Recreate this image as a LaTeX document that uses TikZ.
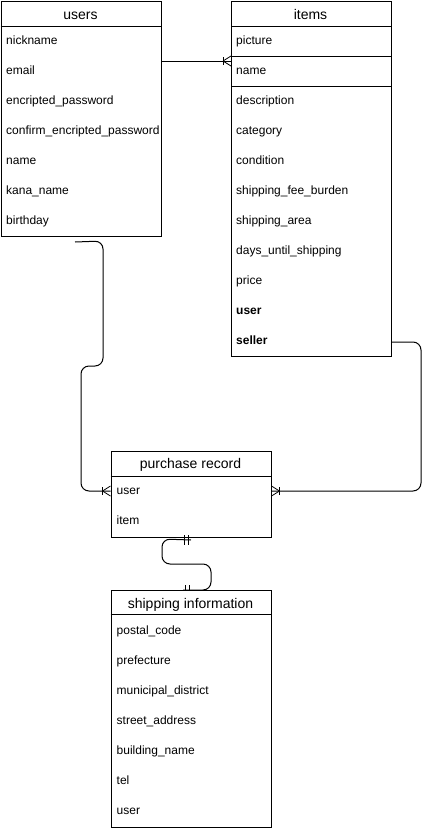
\documentclass[tikz,border=0pt]{standalone}
\usepackage{fontspec}
\setmainfont{Liberation Sans}
\usetikzlibrary{positioning}
\usetikzlibrary{calc}

\tikzset{
  tbl/.style={draw, fill=white, line width=1pt, anchor=north west, inner sep=0pt, minimum width=160pt},
  hdr/.style={font=\fontsize{14}{16}\selectfont, anchor=base, inner sep=0pt},
  fld/.style={font=\fontsize{12}{14}\selectfont, anchor=base west, inner sep=0pt},
  rel/.style={line width=1pt, rounded corners=8pt},
  many/.pic={\draw[line width=0.8pt] (-8,-4) -- (-8,4);
             \draw[line width=0.8pt] (-8,0) -- (0,-5) (-8,0) -- (0,5);},
  onlyone/.pic={\draw[line width=0.8pt] (-7,-5) -- (-7,5) (-3,-5) -- (-3,5);}
}

\begin{document}
\begin{tikzpicture}[x=1pt,y=-1pt]
 \useasboundingbox (0,0) rectangle (429,830);

 % tables
 \node[tbl, minimum height=235.5pt] (users) at (0.5,0.5) {};
 \node[tbl, minimum height=355pt, minimum width=159.5pt] (items) at (231,0.5) {};
 \node[tbl, minimum height=86pt] (purchase) at (110.5,450.5) {};
 \node[tbl, minimum height=236.5pt] (shipping) at (110.5,590) {};

 \draw[line width=1pt] (users.west |- 0,26) -- (users.east |- 0,26);
 \draw[line width=1pt] (items.west |- 0,26) -- (items.east |- 0,26);
 \draw[line width=1pt] (items.west |- 0,56) -- (items.east |- 0,56);
 \draw[line width=1pt] (items.west |- 0,86) -- (items.east |- 0,86);
 \draw[line width=1pt] (purchase.west |- 0,476) -- (purchase.east |- 0,476);
 \draw[line width=1pt] (shipping.west |- 0,614) -- (shipping.east |- 0,614);

 \node[hdr] (users-title) at (80.5,19) {users};
 \node[hdr] (items-title) at (310.5,19) {items};
 \node[hdr] (purchase-title) at (190.5,468.5) {purchase record};
 \node[hdr] (shipping-title) at (190.5,608.5) {shipping information};

 % fields
 \begin{scope}
  \clip (users.north west) rectangle (users.south east);
  \foreach \f [count=\i] in {nickname,email,encripted\_password,confirm\_encripted\_password,name,kana\_name,birthday}
   \node[fld] (users-\i) at (6,14+30*\i) {\f};
 \end{scope}
 \foreach \f [count=\i] in {picture,name,description,category,condition,shipping\_fee\_burden,shipping\_area,days\_until\_shipping,price,\textbf{user},\textbf{seller}}
  \node[fld] (items-\i) at (236,14+30*\i) {\f};
 \foreach \f [count=\i] in {user,item}
  \node[fld] (purchase-\i) at (116.5,464+30*\i) {\f};
 \foreach \f [count=\i] in {postal\_code,prefecture,municipal\_district,street\_address,building\_name,tel,user}
  \node[fld] (shipping-\i) at (116.5,604+30*\i) {\f};

 % relations
 \draw[rel] (users.east |- 0,61) -- (items.west |- 0,61);
 \pic at (items.west |- 0,61) {many};

 \draw[rel] ($(users.south)+(-6,5)$) -- (103,241) -- (103,366) -- (81,366) -- (81,491) -- (purchase.west |- 0,491);
 \pic at (purchase.west |- 0,491) {many};

 \draw[rel] (items.east |- 0,342) -- (421,342) -- (421,491) -- (purchase.east |- 0,491);
 \pic[rotate=180] at (purchase.east |- 0,491) {many};

 \draw[rel] ($(purchase.south)+(0,2.5)$) -- (162,539) -- (162,564) -- (211,564) -- (211,590) -- ($(shipping.north)+(-8,0)$);
 \pic at ($(purchase.south)+(0,2.5)$) {onlyone};
 \draw[line width=0.8pt] ($(shipping.north)+(-5.5,-5)$) -- ++(0,5) ($(shipping.north)+(-2,-5)$) -- ++(0,5);
\end{tikzpicture}
\end{document}
